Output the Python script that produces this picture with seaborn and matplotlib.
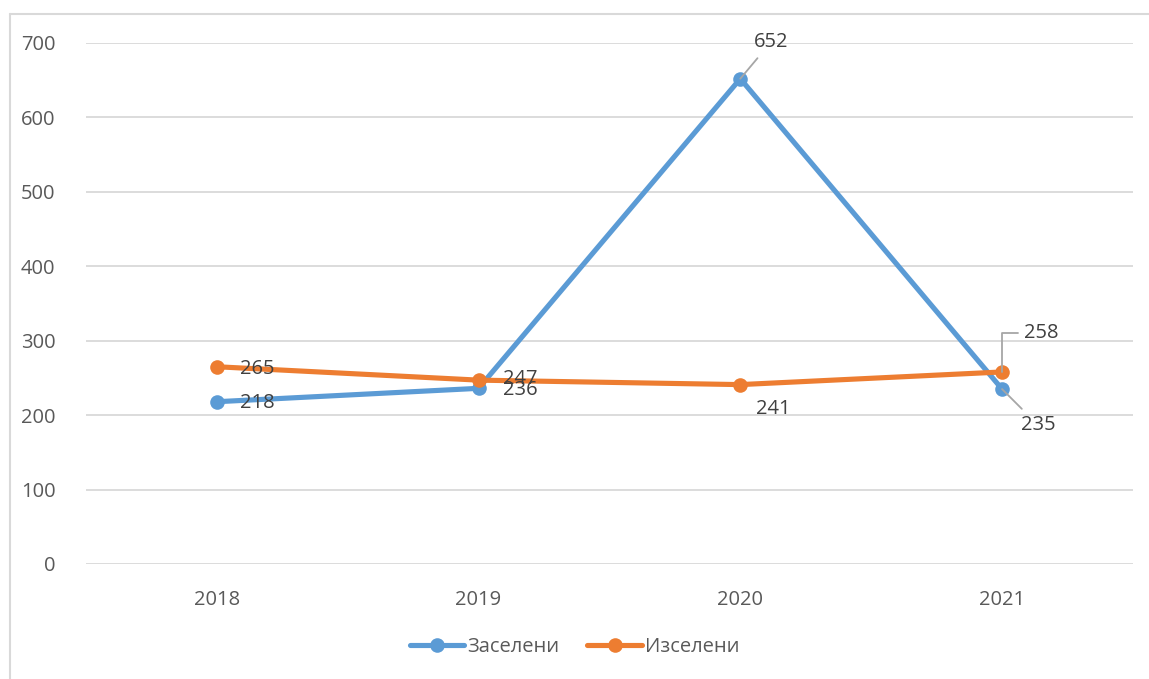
import seaborn as sns
import pandas as pd
import matplotlib.pyplot as plt
from matplotlib.lines import Line2D

# Chart data
years = ['2018', '2019', '2020', '2021']
zaseleni = [218, 236, 652, 235]
izseleni = [265, 247, 241, 258]
series_names = ['Заселени', 'Изселени']

# Long frame for seaborn
df = pd.DataFrame({
    'x': list(range(len(years))) * 2,
    'value': zaseleni + izseleni,
    'series': [series_names[0]] * len(years) + [series_names[1]] * len(years),
})

colors = {'Заселени': '#5B9BD5', 'Изселени': '#ED7D31'}

sns.set_style('white')
plt.rcParams['font.family'] = ['Open Sans', 'DejaVu Sans']

fig = plt.figure(figsize=(11.49, 6.79), dpi=100)
ax = fig.add_axes([0.0748, 0.1694, 0.9112, 0.7673])

sns.lineplot(data=df, x='x', y='value', hue='series', palette=colors,
             marker='o', markersize=10.5, markeredgewidth=0, linewidth=3.7,
             legend=False, ax=ax, sort=False)

ax.set_xlim(-0.5, 3.5)
ax.set_ylim(0, 700)
ax.set_yticks(range(0, 701, 100))
ax.set_xticks(range(len(years)))
ax.set_xticklabels(years)
ax.set_xlabel('')
ax.set_ylabel('')
ax.grid(axis='y', color='#D9D9D9', linewidth=1.3)
ax.set_axisbelow(True)
for s in ax.spines.values():
    s.set_visible(False)
ax.tick_params(axis='both', length=0, labelsize=14.5, colors='#595959')
ax.tick_params(axis='y', pad=22)
ax.tick_params(axis='x', pad=19)

# Data labels (offsets in pixels from point)
lbl_z = [(40, -1, None), (42, -2, None), (31, 37, 'line'), (36, -36, 'line')]
lbl_i = [(40, -2, None), (42, 1, None), (33, -24, None), (39, 39, 'elbow')]

def put_labels(vals, offs):
    for i, (v, (dx, dy, lead)) in enumerate(zip(vals, offs)):
        kw = dict(textcoords='offset pixels', ha='center', va='center',
                  fontsize=14.5, color='#404040', zorder=5)
        if lead == 'line':
            kw['arrowprops'] = dict(arrowstyle='-', color='#A6A6A6', lw=1.3,
                                    shrinkA=3, shrinkB=0)
        elif lead == 'elbow':
            kw['arrowprops'] = dict(arrowstyle='-', color='#A6A6A6', lw=1.3,
                                    shrinkA=2, shrinkB=0, relpos=(0, 0.5),
                                    connectionstyle='angle,angleA=180,angleB=90,rad=0')
        ax.annotate(str(v), xy=(i, v), xytext=(dx, dy), **kw)

put_labels(zaseleni, lbl_z)
put_labels(izseleni, lbl_i)

# Legend
handles = [Line2D([0], [0], color=colors[n], lw=3.7, marker='o', markersize=10.5,
                  markeredgewidth=0) for n in series_names]
leg = fig.legend(handles, series_names, loc='center', bbox_to_anchor=(0.5, 0.047),
                 ncol=2, frameon=False, fontsize=14.5, handlelength=2.7,
                 columnspacing=1.4, handletextpad=0.15)
for t in leg.get_texts():
    t.set_color('#595959')

# Outer chart border (top and left visible)
fig.add_artist(Line2D([10 / 1149, 10 / 1149], [0, 1 - 14 / 679], color='#D9D9D9', lw=1.5,
                      transform=fig.transFigure))
fig.add_artist(Line2D([10 / 1149, 1], [1 - 14 / 679, 1 - 14 / 679], color='#D9D9D9', lw=1.5,
                      transform=fig.transFigure))

fig.savefig('out.png', dpi=100)
